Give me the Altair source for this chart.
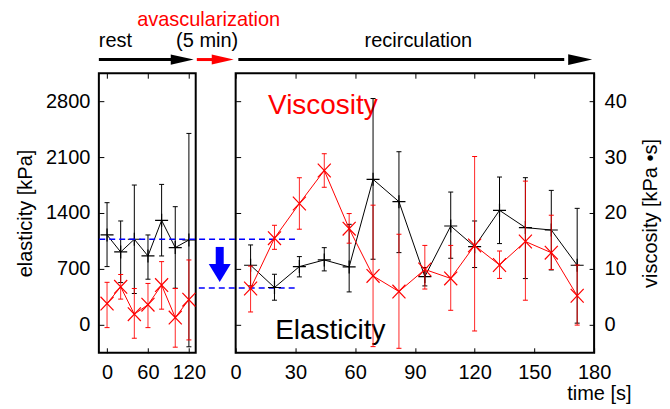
import altair as alt
import pandas as pd

# ---------------- data ----------------
rest_time = [0, 20, 40, 60, 80, 100, 120]
rest_elasticity = [1125, 912, 1071, 862, 1308, 967, 1062]
rest_elasticity_lo = [729, 529, 392, 571, 862, 458, -275]
rest_elasticity_hi = [1529, 1300, 1750, 1125, 1758, 1479, 2396]
rest_viscosity = [3.8, 6.8, 1.9, 3.6, 7.1, 1.3, 4.5]
rest_viscosity_lo = [-0.5, 4.6, -2.4, -0.5, 2.8, -4.0, -2.7]
rest_viscosity_hi = [7.6, 9.0, 6.5, 7.4, 11.3, 6.5, 11.6]

recirc_time = [7.5, 19.5, 32, 44.5, 57, 69, 82, 95, 108, 120, 132.5, 145.5, 158.5, 171.5]
recirc_elasticity = [746, 467, 729, 812, 725, 1821, 1542, 604, 1237, 979, 1433, 1217, 1187, 746]
recirc_elasticity_lo = [487, 308, 600, 675, 412, 821, 904, 487, 833, 717, 1017, 579, 687, 21]
recirc_elasticity_hi = [1000, 633, 854, 966, 1258, 2833, 2167, 717, 1662, 1300, 1850, 1842, 1683, 1458]
recirc_viscosity = [6.5, 15.5, 21.7, 27.6, 17.2, 8.75, 5.95, 9.9, 8.3, 14.2, 10.7, 14.9, 12.9, 5.2]
recirc_viscosity_lo = [2.3, 13.5, 17.1, 24.6, 14.6, -3.9, -4.2, 6.4, 2.6, -1.1, 8.3, 4.4, 9.9, -0.05]
recirc_viscosity_hi = [10.5, 17.8, 26.3, 30.6, 19.9, 21.4, 16.2, 14.2, 14.2, 30.1, 13.2, 25.7, 19.6, 10.7]

elasticity_before = 1070   # dashed level before avascularization
elasticity_after = 462     # dashed level after avascularization

elasticity_ticks = [0, 700, 1400, 2100, 2800]
viscosity_ticks = [0, 10, 20, 30, 40]
rest_ticks = [0, 60, 120]
recirc_ticks = [0, 30, 60, 90, 120, 150, 180]

# ---------------- styling ----------------
FONT = "Liberation Sans"
FS = 20
E_DOM = [-350, 3150]
V_DOM = [-5, 45]
L_DOM = [-12, 130]
R_DOM = [0, 180]
H = 280
LW = 97
RW = 359
RED = "#ff0000"
BLUE = "#0000ff"
PLUS = "M-1,0L1,0M0,-1L0,1"
CROSS = "M-1,-1.05L1,1.05M-1,1.05L1,-1.05"
CAP = "M-1,0L1,0"
ARROW_R = "M-1,-0.45L1,0L-1,0.45Z"
ARROW_D = "M-1,-0.82L1,-0.82L0,0.82Z"


def X(field, dom, axis=None):
    return alt.X(field, type="quantitative",
                 scale=alt.Scale(domain=dom, nice=False, zero=False), axis=axis)


def Y(field, dom, axis=None):
    return alt.Y(field, type="quantitative",
                 scale=alt.Scale(domain=dom, nice=False, zero=False), axis=axis)


def tick_axis(orient, values):
    return alt.Axis(orient=orient, values=values, labels=False, domain=False,
                    grid=False, ticks=True, tickSize=5, tickWidth=1,
                    tickColor="black", offset=-5, title=None)


def frame(t, v, lo, hi):
    return pd.DataFrame({"t": t, "v": v, "lo": lo, "hi": hi})


def series(df, xdom, ydom, color, shape, axes, bar_opacity=1.0):
    base = alt.Chart(df)
    bars = base.mark_rule(color=color, strokeWidth=1, opacity=bar_opacity).encode(
        x=X("t", xdom, axes.get("bx")), y=Y("lo", ydom, axes.get("by")), y2="hi:Q")
    caps = base.transform_fold(["lo", "hi"], as_=["k", "cap"]).mark_point(
        shape=CAP, size=25, color=color, strokeWidth=1, filled=False, opacity=1).encode(
        x=X("t", xdom, axes.get("cx")), y=Y("cap", ydom, axes.get("cy")))
    line = base.mark_line(color=color, strokeWidth=1).encode(
        x=X("t", xdom, axes.get("lx")), y=Y("v", ydom, axes.get("ly")))
    pts = base.mark_point(shape=shape, size=170, color=color, strokeWidth=1.2,
                          filled=False, opacity=1).encode(
        x=X("t", xdom, None), y=Y("v", ydom, None))
    return [bars, caps, line, pts]


def hrule(x1, x2, y, xdom, color, width, dash=None):
    kw = dict(color=color, strokeWidth=width)
    if dash:
        kw["strokeDash"] = dash
    return alt.Chart(pd.DataFrame({"x1": [x1], "x2": [x2], "y": [y]})).mark_rule(**kw).encode(
        x=X("x1", xdom), x2="x2:Q", y=Y("y", E_DOM))


def head(x, y, xdom, color, shape, size):
    return alt.Chart(pd.DataFrame({"x": [x], "y": [y]})).mark_point(
        shape=shape, size=size, color=color, filled=True, opacity=1, strokeWidth=0).encode(
        x=X("x", xdom), y=Y("y", E_DOM))


def label(text, x, y, xdom, color="black", size=FS, align="center"):
    return alt.Chart(pd.DataFrame({"x": [x], "y": [y], "s": [text]})).mark_text(
        font=FONT, fontSize=size, color=color, align=align, baseline="alphabetic").encode(
        x=X("x", xdom), y=Y("y", E_DOM), text="s:N")


lab = dict(domain=False, grid=False, ticks=False, tickSize=0, labelFontSize=FS,
           labelFont=FONT, labelColor="black", labelFlush=False, labelOverlap=False,
           format="d", titleFont=FONT, titleFontSize=FS, titleFontWeight="normal",
           titleColor="black")

# ---------------- left panel (rest) ----------------
rest_e = frame(rest_time, rest_elasticity, rest_elasticity_lo, rest_elasticity_hi)
rest_v = frame(rest_time, rest_viscosity, rest_viscosity_lo, rest_viscosity_hi)

left_layers = [
    hrule(-12, 100, 3321, L_DOM, "black", 3),
    head(110.2, 3321, L_DOM, "black", ARROW_R, 529),
    hrule(131.6, 158, 3321, L_DOM, RED, 3),
    head(169.6, 3321, L_DOM, RED, ARROW_R, 484),
    label("rest", -12, 3479, L_DOM, align="left"),
    label("(5 min)", 146.8, 3479, L_DOM),
    label("avascularization", 149, 3741, L_DOM, color=RED),
]
left_layers += series(rest_e, L_DOM, E_DOM, "black", PLUS, {
    "bx": alt.Axis(orient="bottom", values=rest_ticks, labelPadding=10, title=None, **lab),
    "by": alt.Axis(orient="left", values=elasticity_ticks, labelPadding=9,
                   title="elasticity [kPa]", titlePadding=10, **lab),
    "cx": tick_axis("bottom", rest_ticks),
    "cy": tick_axis("left", elasticity_ticks),
    "lx": tick_axis("top", rest_ticks),
})
left_layers += series(rest_v, L_DOM, V_DOM, RED, CROSS, {}, bar_opacity=0.85)

left = alt.layer(*left_layers).resolve_scale(y="independent").resolve_axis(
    x="independent", y="independent").properties(width=LW, height=H)

# ---------------- right panel (recirculation) ----------------
rec_e = frame(recirc_time, recirc_elasticity, recirc_elasticity_lo, recirc_elasticity_hi)
rec_v = frame(recirc_time, recirc_viscosity, recirc_viscosity_lo, recirc_viscosity_hi)

right_layers = [
    hrule(-68.5, 31.5, elasticity_before, R_DOM, BLUE, 1.5, [6, 4]),
    hrule(-18.5, 31.5, elasticity_after, R_DOM, BLUE, 1.5, [6, 4]),
    alt.Chart(pd.DataFrame({"x": [-8], "y1": [975], "y2": [740]})).mark_rule(
        color=BLUE, strokeWidth=8).encode(x=X("x", R_DOM), y=Y("y1", E_DOM), y2="y2:Q"),
    head(-8, 650, R_DOM, BLUE, ARROW_D, 484),
    hrule(1.35, 165, 3321, R_DOM, "black", 3),
    head(173, 3321, R_DOM, "black", ARROW_R, 576),
    label("recirculation", 91.75, 3475, R_DOM),
    label("Viscosity", 43.8, 2634, R_DOM, color=RED, size=28),
    label("Elasticity", 47.5, -175, R_DOM, size=28),
]
right_layers += series(rec_e, R_DOM, E_DOM, "black", PLUS, {
    "bx": alt.Axis(orient="bottom", values=recirc_ticks, labelPadding=10, title="time [s]",
                   titleX=396, titleY=47, titleAlign="right", titleBaseline="alphabetic", **lab),
    "by": tick_axis("left", elasticity_ticks),
    "cx": tick_axis("bottom", recirc_ticks),
    "lx": tick_axis("top", recirc_ticks),
})
right_layers += series(rec_v, R_DOM, V_DOM, RED, CROSS, {
    "by": alt.Axis(orient="right", values=viscosity_ticks, labelPadding=10, labelAlign="left",
                   title="viscosity [kPa •s]", titleAngle=-90, titleBaseline="top",
                   titlePadding=14, **lab),
    "cy": tick_axis("right", viscosity_ticks),
}, bar_opacity=0.85)

right = alt.layer(*right_layers).resolve_scale(y="independent").resolve_axis(
    x="independent", y="independent").properties(width=RW, height=H)

chart = alt.hconcat(left, right, spacing=40, bounds="flush").properties(
    padding={"left": 6, "top": 0, "right": 0, "bottom": 0}
).configure(font=FONT).configure_view(stroke="black", strokeWidth=2)

chart.save("out.html", embed_options={"renderer": "svg", "actions": False})
